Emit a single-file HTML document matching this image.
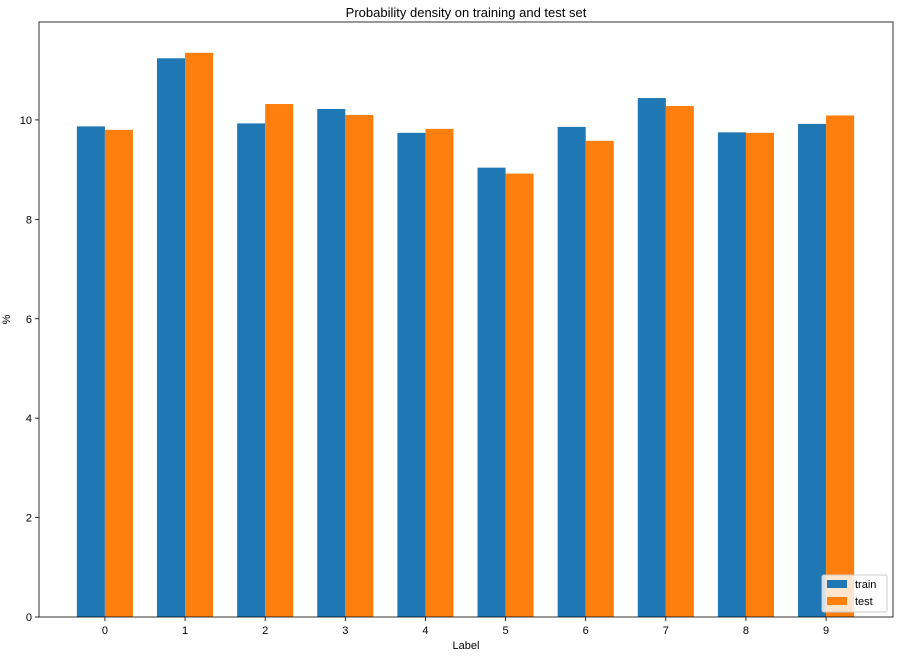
<!DOCTYPE html>
<html><head><meta charset="utf-8"><style>
body{margin:0;background:#fff;font-family:"Liberation Sans",sans-serif;}
</style></head><body>
<svg id="chart" width="918" height="661" xmlns="http://www.w3.org/2000/svg" font-family="Liberation Sans, sans-serif"></svg>
<script>
const categories=["0","1","2","3","4","5","6","7","8","9"];
const trainValues=[9.87,11.24,9.93,10.22,9.74,9.04,9.86,10.44,9.75,9.92];
const testValues=[9.80,11.35,10.32,10.10,9.82,8.92,9.58,10.28,9.74,10.09];
const yTicks=[0,2,4,6,8,10];
const L=39,R=893,T=22,B=617;
const xmin=-0.8225,xmax=9.835,ymax=11.97;
const xs=v=>L+(v-xmin)/(xmax-xmin)*(R-L);
const ys=v=>B-v/ymax*(B-T);
const svg=document.getElementById('chart');
const NS="http://www.w3.org/2000/svg";
function mk(t,a,txt){const e=document.createElementNS(NS,t);for(const k in a)e.setAttribute(k,a[k]);if(txt!==undefined)e.textContent=txt;svg.appendChild(e);return e;}
const w=0.35;
categories.forEach((c,i)=>{
  let e=mk('rect',{x:xs(i-w),y:ys(trainValues[i]),width:xs(i)-xs(i-w),height:B-ys(trainValues[i]),fill:'#1f77b4'});
  
  
  e=mk('rect',{x:xs(i),y:ys(testValues[i]),width:xs(i+w)-xs(i),height:B-ys(testValues[i]),fill:'#ff7f0e'});
  
  
  mk('line',{x1:xs(i),x2:xs(i),y1:B,y2:B+4,stroke:'#000','stroke-width':0.8});
  e=mk('text',{x:xs(i),y:B+17,'font-size':11,'text-anchor':'middle'},c);
  
  
});
yTicks.forEach(v=>{
  mk('line',{x1:L-4,x2:L,y1:ys(v),y2:ys(v),stroke:'#000','stroke-width':0.8});
  const e=mk('text',{x:L-7,y:ys(v)+4,'font-size':11,'text-anchor':'end'},v);
  
  
});
let f=mk('rect',{x:L,y:T,width:R-L,height:B-T,fill:'none',stroke:'#000','stroke-width':0.8});

let t=mk('text',{x:(L+R)/2,y:17,'font-size':13,'text-anchor':'middle'},'Probability density on training and test set');

t=mk('text',{x:(L+R)/2,y:649,'font-size':11,'text-anchor':'middle'},'Label');

t=mk('text',{x:10,y:(T+B)/2,'font-size':11,'text-anchor':'middle',transform:'rotate(-90 10 '+(T+B)/2+')'},'%');

let lg=mk('rect',{x:822,y:575,width:65,height:37,rx:2,fill:'#fff',stroke:'#ccc','fill-opacity':0.8});

mk('rect',{x:827,y:580,width:20,height:8,fill:'#1f77b4'});
t=mk('text',{x:855,y:588,'font-size':11},'train');

mk('rect',{x:827,y:597,width:20,height:8,fill:'#ff7f0e'});
t=mk('text',{x:855,y:605,'font-size':11},'test');

</script>
</body></html>
